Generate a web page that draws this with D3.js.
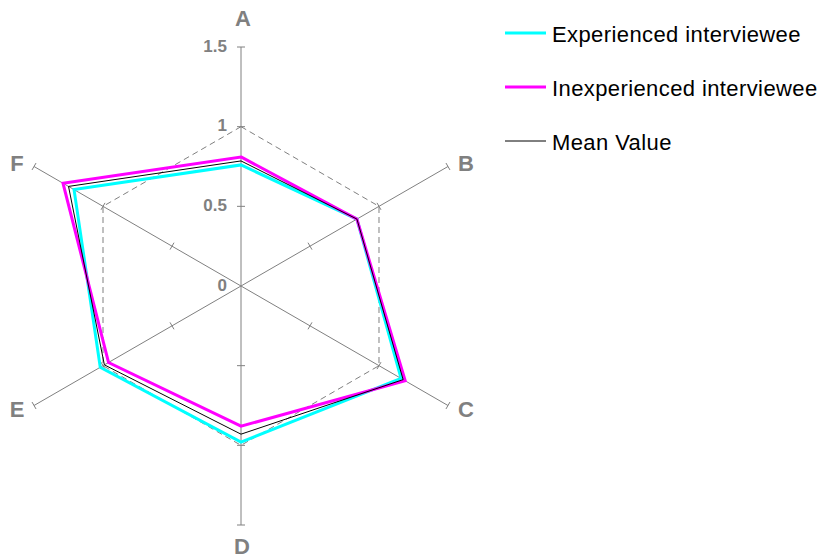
<!DOCTYPE html>
<html>
<head>
<meta charset="utf-8">
<script src="https://cdn.jsdelivr.net/npm/d3@7"></script>
<style>
  body { margin: 0; background: #fff; }
  svg { font-family: "Liberation Sans", Arial, sans-serif; }
</style>
</head>
<body>
<svg id="chart" width="819" height="560"></svg>
<script>
const axes = ['A', 'B', 'C', 'D', 'E', 'F']
const tickValues = [0, 0.5, 1, 1.5]
const tickLabels = ['0', '0.5', '1', '1.5']
const experienced = [0.76, 0.84, 1.16, 0.98, 1.02, 1.21]
const inexperienced = [0.81, 0.84, 1.19, 0.88, 0.96, 1.29]
const meanValue = [0.785, 0.84, 1.175, 0.93, 0.99, 1.25]

const seriesList = [
  { name: 'Experienced interviewee', values: experienced, color: '#00ffff', width: 3 },
  { name: 'Inexperienced interviewee', values: inexperienced, color: '#ff00ff', width: 3 },
  { name: 'Mean Value', values: meanValue, color: '#000000', width: 1 }
]

const center = { x: 241, y: 286 }
const grey = '#808080'

// label offsets from the end of each spoke
const labelOffsets = {
  A: [2, -29], B: [18, -3], C: [18, 4], D: [1, 21], E: [-17, 4], F: [-17, -3]
}

const svg = d3.select('#chart')
const r = d3.scaleLinear().domain([0, 1.5]).range([0, 239])
const angle = d3.scalePoint().domain(axes).range([0, 2 * Math.PI * 5 / 6])

const g = svg.append('g').attr('transform', `translate(${center.x}, ${center.y})`)

function point (axis, value) {
  const a = angle(axis)
  return [Math.sin(a) * r(value), -Math.cos(a) * r(value)]
}

// dashed reference hexagon at 1
g.append('path')
  .attr('d', d3.line()(axes.map(a => point(a, 1))) + 'Z')
  .attr('fill', 'none')
  .attr('stroke', grey)
  .attr('stroke-width', 1)
  .attr('stroke-dasharray', '6,4')

// spokes with ticks
axes.forEach(axis => {
  const end = point(axis, 1.5)
  g.append('line')
    .attr('x1', 0).attr('y1', 0)
    .attr('x2', end[0]).attr('y2', end[1])
    .attr('stroke', grey).attr('stroke-width', 1)

  const a = angle(axis)
  const px = Math.cos(a) * 4
  const py = Math.sin(a) * 4
  tickValues.slice(1).forEach(v => {
    const p = point(axis, v)
    g.append('line')
      .attr('x1', p[0] - px).attr('y1', p[1] - py)
      .attr('x2', p[0] + px).attr('y2', p[1] + py)
      .attr('stroke', grey).attr('stroke-width', 1)
  })

  const off = labelOffsets[axis]
  g.append('text')
    .attr('x', end[0] + off[0]).attr('y', end[1] + off[1])
    .attr('text-anchor', 'middle')
    .attr('dominant-baseline', 'central')
    .attr('font-size', 22)
    .attr('font-weight', 'bold')
    .attr('fill', grey)
    .text(axis)
})

// tick labels on axis A
tickValues.forEach((v, i) => {
  g.append('text')
    .attr('x', -14)
    .attr('y', -r(v) - 1)
    .attr('text-anchor', 'end')
    .attr('dominant-baseline', 'central')
    .attr('font-size', 17)
    .attr('font-weight', 'bold')
    .attr('fill', grey)
    .text(tickLabels[i])
})

// series
const line = d3.line().curve(d3.curveLinearClosed)
seriesList.forEach(s => {
  g.append('path')
    .attr('d', line(axes.map((a, i) => point(a, s.values[i]))))
    .attr('fill', 'none')
    .attr('stroke', s.color)
    .attr('stroke-width', s.width)
    .attr('stroke-linejoin', 'miter')
})

// legend
const legend = svg.append('g').attr('transform', 'translate(505, 33)')
seriesList.forEach((s, i) => {
  const item = legend.append('g').attr('transform', `translate(0, ${i * 54})`)
  item.append('line')
    .attr('x1', 0).attr('x2', 41)
    .attr('stroke', s.color)
    .attr('stroke-width', s.width)
  item.append('text')
    .attr('x', 47)
    .attr('y', 1)
    .attr('dominant-baseline', 'central')
    .attr('font-size', 22)
    .attr('letter-spacing', 0.4)
    .attr('fill', '#000')
    .text(s.name)
})
</script>
</body>
</html>
